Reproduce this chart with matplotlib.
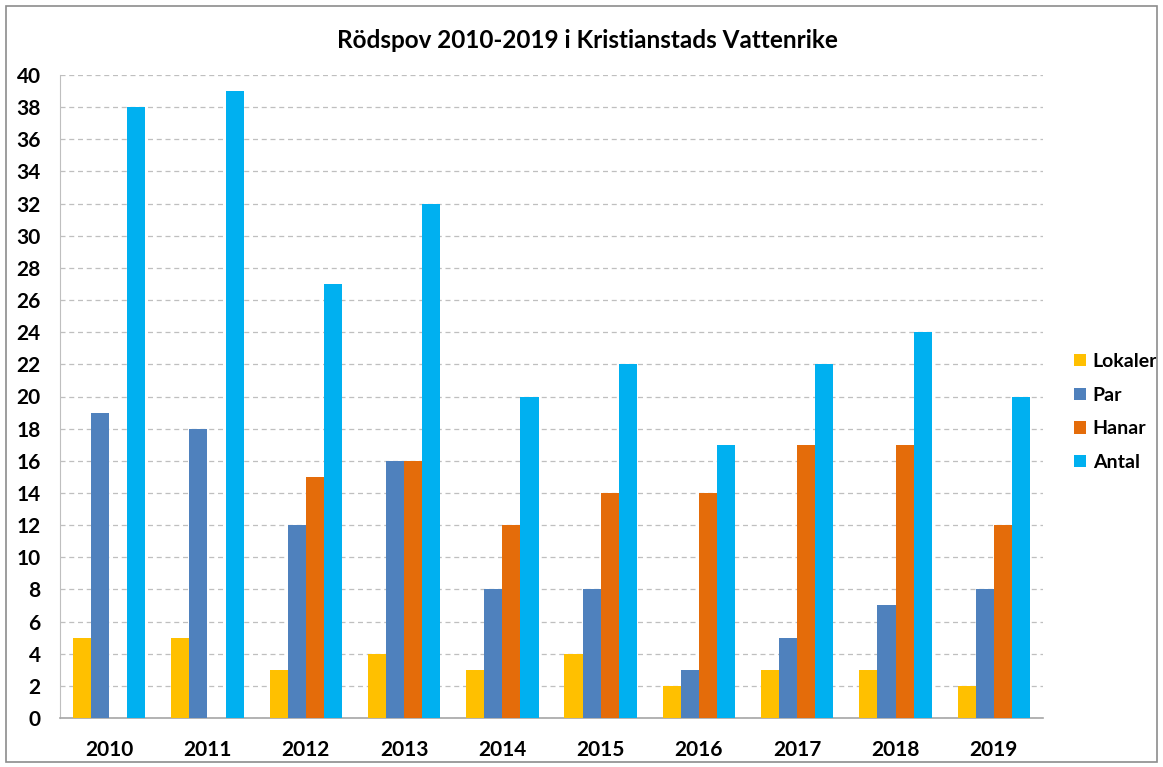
import matplotlib
matplotlib.use("Agg")
import matplotlib.pyplot as plt
from matplotlib.patches import Rectangle
import numpy as np

years = ["2010", "2011", "2012", "2013", "2014", "2015", "2016", "2017", "2018", "2019"]
lokaler = [5, 5, 3, 4, 3, 4, 2, 3, 3, 2]
par = [19, 18, 12, 16, 8, 8, 3, 5, 7, 8]
hanar = [0, 0, 15, 16, 12, 14, 14, 17, 17, 12]
antal = [38, 39, 27, 32, 20, 22, 17, 22, 24, 20]

series = [("Lokaler", lokaler, "#FFC000"),
          ("Par", par, "#4F81BD"),
          ("Hanar", hanar, "#E46C0A"),
          ("Antal", antal, "#00B0F0")]

plt.rcParams['font.family'] = ['Lato', 'DejaVu Sans']

fig = plt.figure(figsize=(11.63, 7.67), dpi=100)
fig.patches.append(Rectangle((6/1163, 5/767), 1151/1163, 756/767, transform=fig.transFigure,
                             fill=False, edgecolor="#8c8c8c", linewidth=1.2))
ax = fig.add_axes([60/1163, 49/767, 983/1163, 643/767])

x = np.arange(len(years))
w = 0.184
for i, (name, vals, col) in enumerate(series):
    ax.bar(x + (i - 1.5) * w, vals, width=w, color=col, label=name, zorder=3)

ax.set_xlim(-0.5, len(years) - 0.5)
ax.set_ylim(0, 40)
ax.set_yticks(range(0, 41, 2))
ax.set_xticks(x)
ax.set_xticklabels(years)
ax.tick_params(axis='both', length=0, labelsize=15)
for lab in ax.get_xticklabels() + ax.get_yticklabels():
    lab.set_fontweight('bold')
ax.tick_params(axis='x', pad=16)
ax.tick_params(axis='y', pad=14)
ax.yaxis.grid(True, linestyle=(0, (4, 3)), color="#bfbfbf", linewidth=0.9, zorder=0)
for s in ["top", "right"]:
    ax.spines[s].set_visible(False)
ax.spines["left"].set_color("#bfbfbf")
ax.spines["bottom"].set_color("#a6a6a6")
ax.spines["bottom"].set_linewidth(1.2)

fig.text(587/1163, 1 - 40/767, "Rödspov 2010-2019 i Kristianstads Vattenrike",
         ha="center", va="center", fontsize=17.5, fontweight="bold")

leg = ax.legend(loc="center left", bbox_to_anchor=(1.02, 0.476), frameon=False,
                prop={'weight': 'bold', 'size': 14}, handlelength=0.6, handleheight=0.6,
                handletextpad=0.35, labelspacing=0.85, borderaxespad=0.2)

fig.savefig("out.png", dpi=100)
